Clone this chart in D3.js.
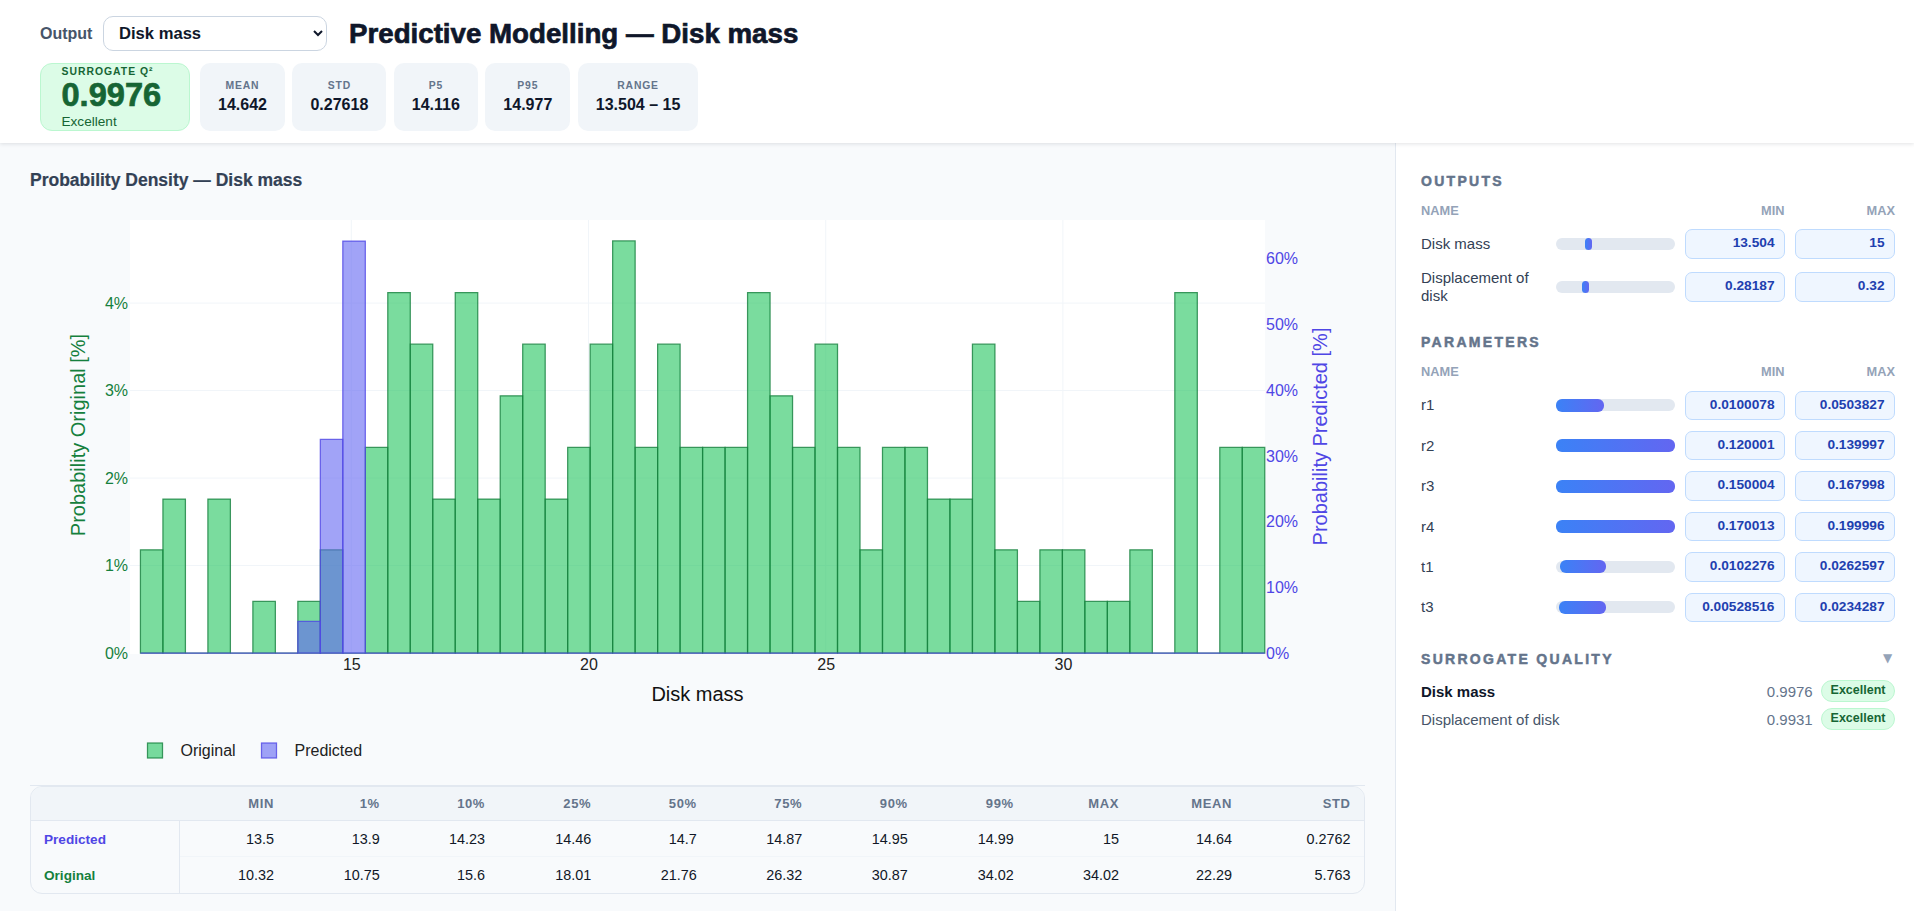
<!DOCTYPE html>
<html><head><meta charset="utf-8">
<script src="https://cdn.jsdelivr.net/npm/d3@7/dist/d3.min.js"></script>
<style>
html,body{margin:0;padding:0;width:1914px;height:911px;overflow:hidden;background:#f8fafc;font-family:"Liberation Sans",Arial,sans-serif;}
#hdr{position:absolute;left:0;top:0;width:1914px;height:143px;background:#fff;box-shadow:0 1px 4px rgba(15,23,42,.12);z-index:3}
#panel{position:absolute;left:1395px;top:143px;width:519px;height:768px;background:#fff;border-left:1px solid #e2e8f0;box-sizing:border-box}
#chart{position:absolute;left:0;top:0;z-index:1}
.t{position:absolute;white-space:nowrap;transform:translateY(-50%);z-index:4}
.r{transform:translate(-100%,-50%)}
select{position:absolute;left:103px;top:15.5px;width:224px;height:35px;border:1.5px solid #cbd5e1;border-radius:10px;background:#fff;font:bold 16.6px "Liberation Sans";color:#0f172a;padding:0 17px 0 11px;z-index:4}
.heavy{-webkit-text-stroke:.7px currentColor}
#stats{position:absolute;left:200px;top:63px;height:68px;display:flex;gap:7.5px;z-index:4}
.st{background:#f1f5f9;border-radius:10px;padding:0 18px;position:relative;text-align:center;height:68px;box-sizing:border-box}
.st .l{position:absolute;left:0;right:0;top:22px;transform:translateY(-50%);font:bold 10.4px "Liberation Sans";letter-spacing:.8px;color:#64748b}
.st .v{font:bold 16px/84px "Liberation Sans";color:#0f172a;white-space:nowrap}
#q{position:absolute;left:40px;top:63px;width:150px;height:68px;box-sizing:border-box;background:#dcfce7;border:1px solid #bbf7d0;border-radius:12px;z-index:4}
.sec{font:bold 14px "Liberation Sans";letter-spacing:2.3px;color:#64748b;-webkit-text-stroke:.5px currentColor}
.sub{font:bold 12.8px "Liberation Sans";color:#94a3b8}
.nm{position:absolute;width:126px;font:15px/17.7px "Liberation Sans";color:#334155;transform:translateY(-50%);z-index:4}
.track{position:absolute;left:1556px;width:119px;height:12px;background:#e2e8f0;border-radius:6px;z-index:4}
.fill{position:absolute;top:0;height:100%;background:linear-gradient(90deg,#3b82f6,#6366f1);border-radius:6px}
.box{position:absolute;width:100px;height:29.5px;box-sizing:border-box;background:#eff6ff;border:1.5px solid #bfdbfe;border-radius:7px;font:bold 13.7px/26.5px "Liberation Sans";color:#1e40af;text-align:right;padding-right:9.5px;z-index:4}
.badge{position:absolute;left:1821px;width:74px;height:21.5px;box-sizing:border-box;background:#dcfce7;border:1px solid #bbf7d0;border-radius:11px;font:bold 12.5px/19.5px "Liberation Sans";color:#166534;text-align:center;z-index:4}
#tw{position:absolute;left:30px;top:785.7px;width:1334.5px;height:108px;box-sizing:border-box;border:1px solid #e2e8f0;border-radius:12px;overflow:hidden;z-index:4}
#tl{position:absolute;left:30px;top:784.7px;width:1334.5px;height:1.5px;background:#e2e8f0;z-index:5}
table{border-collapse:separate;border-spacing:0;table-layout:fixed;width:100%;}
th{height:34.5px;background:#f1f5f9;border-bottom:1px solid #e2e8f0;font:bold 13px "Liberation Sans";letter-spacing:.6px;color:#64748b;text-align:right;padding:0 13px 0 0;box-sizing:border-box}
td{height:36px;font:14.4px "Liberation Sans";color:#111827;text-align:right;padding:0 13px 0 0;box-sizing:border-box;border-bottom:1px solid #f1f5f9}
tr:last-child td{border-bottom:none}
td.rn{text-align:left;padding:0 0 0 13px;font:bold 13.6px "Liberation Sans";border-right:1px solid #e2e8f0;border-bottom:none}
</style></head><body>
<div id="hdr"></div><div id="panel"></div>
<svg id="chart" width="1914" height="911"></svg>
<script>
// ---------- data ----------
const outputNames = ["Disk mass","Displacement of disk"];
const binLeftEdges = [10.555,11.029,11.503,11.977,12.451,12.925,13.399,13.873,14.347,14.821,15.295,15.769,16.243,16.717,17.191,17.665,18.139,18.613,19.087,19.561,20.035,20.509,20.983,21.457,21.931,22.405,22.879,23.353,23.827,24.301,24.775,25.249,25.723,26.197,26.671,27.145,27.619,28.093,28.567,29.041,29.515,29.989,30.463,30.937,31.411,31.885,32.359,32.833,33.307,33.781];
const binRightEnd = 34.255;
const originalPct = [1.18,1.76,0,1.76,0,0.59,0,0.59,1.18,0,2.35,4.12,3.53,1.76,4.12,1.76,2.94,3.53,1.76,2.35,3.53,4.71,2.35,3.53,2.35,2.35,2.35,4.12,2.94,2.35,3.53,2.35,1.18,2.35,2.35,1.76,1.76,3.53,1.18,0.59,1.18,1.18,0.59,0.59,1.18,0,4.12,0,2.35,2.35];
const predictedPct = [0,0,0,0,0,0,0,4.8,32.5,62.7,0,0,0,0,0,0,0,0,0,0,0,0,0,0,0,0,0,0,0,0,0,0,0,0,0,0,0,0,0,0,0,0,0,0,0,0,0,0,0,0];
const xTicks = [15,20,25,30];
const yLeftTicks = [0,1,2,3,4];
const yRightTicks = [0,10,20,30,40,50,60];
const xDomain = [10.335,34.26];
const yLeftMax = 4.95;
const yRightMax = 65.9;
const seriesNames = ["Original","Predicted"];

const statLabels = ["MEAN","STD","P5","P95","RANGE"];
const statValues = ["14.642","0.27618","14.116","14.977","13.504 – 15"];

const outMin = ["13.504","0.28187"], outMax = ["15","0.32"];
const outFrom = [0.244,0.22], outTo = [0.303,0.279];
const paramNames = ["r1","r2","r3","r4","t1","t3"];
const paramMin = ["0.0100078","0.120001","0.150004","0.170013","0.0102276","0.00528516"];
const paramMax = ["0.0503827","0.139997","0.167998","0.199996","0.0262597","0.0234287"];
const paramFrom = [0,0,0,0,0.034,0.026];
const paramTo = [0.403,1,1,1,0.42,0.42];
const qualityScores = ["0.9976","0.9931"];
const qualityLabels = ["Excellent","Excellent"];

const tableCols = ["MIN","1%","10%","25%","50%","75%","90%","99%","MAX","MEAN","STD"];
const predictedRow = ["13.5","13.9","14.23","14.46","14.7","14.87","14.95","14.99","15","14.64","0.2762"];
const originalRow = ["10.32","10.75","15.6","18.01","21.76","26.32","30.87","34.02","34.02","22.29","5.763"];

// ---------- header ----------
const body = d3.select("body");
function txt(x,y,s,style,cls){
  const e = body.append("div").attr("class","t "+(cls||"")).style("left",x+"px").style("top",y+"px").text(s);
  Object.entries(style||{}).forEach(([k,v])=>e.style(k,v));
  return e;
}
txt(40,33.5,"Output",{font:'bold 16px "Liberation Sans"',color:"#475569"});
body.append("select").selectAll("option").data(outputNames).join("option").text(d=>d);
txt(349,33.5,"Predictive Modelling — Disk mass",{font:'bold 27.7px "Liberation Sans"',color:"#0f172a"},"heavy");
body.append("div").attr("id","q");
txt(61.5,71,"SURROGATE Q²",{font:'bold 10.4px "Liberation Sans"',"letter-spacing":"1px",color:"#166534"});
txt(61.5,95,qualityScores[0],{font:'bold 32.6px "Liberation Sans"',color:"#166534"},"heavy");
txt(61.5,120.5,qualityLabels[0],{font:'13.6px "Liberation Sans"',color:"#166534"});
const st = body.append("div").attr("id","stats").selectAll("div").data(statLabels).join("div").attr("class","st");
st.append("div").attr("class","l").text(d=>d);
st.append("div").attr("class","v").text((d,i)=>statValues[i]);

txt(30,179.5,"Probability Density — Disk mass",{font:'bold 17.5px "Liberation Sans"',color:"#334155","-webkit-text-stroke":".2px currentColor"});

// ---------- chart ----------
const L=130,R=1265,T=220,B=653;
const x = d3.scaleLinear().domain(xDomain).range([L,R]);
const yL = d3.scaleLinear().domain([0,yLeftMax]).range([B,T]);
const yR = d3.scaleLinear().domain([0,yRightMax]).range([B,T]);
const svg = d3.select("#chart");
svg.append("rect").attr("x",L).attr("y",T).attr("width",R-L).attr("height",B-T+1).attr("fill","#fff");
const axisStyle=(g,color)=>{g.select(".domain").remove();g.selectAll("text").attr("fill",color).style("font",'16px "Liberation Sans"');};
svg.append("g").selectAll("line").data(xTicks).join("line").attr("x1",d=>x(d)).attr("x2",d=>x(d)).attr("y1",T).attr("y2",B).attr("stroke","#f1f5f9");
svg.append("g").selectAll("line").data(yLeftTicks.slice(1)).join("line").attr("x1",L).attr("x2",R).attr("y1",d=>yL(d)).attr("y2",d=>yL(d)).attr("stroke","#f1f5f9");

function bars(values,scale,fill,stroke){
  svg.append("g").selectAll("path").data(values).join("path")
    .attr("d",(v,i)=>{
      const p=d3.path();
      const x0=x(binLeftEdges[i]), x1=x(i<binLeftEdges.length-1?binLeftEdges[i+1]:binRightEnd);
      p.moveTo(x0,B);p.lineTo(x0,scale(v));p.lineTo(x1,scale(v));p.lineTo(x1,B);p.closePath();
      return p.toString();
    })
    .attr("fill",fill).attr("stroke",stroke).attr("stroke-width",1.25);
}
bars(originalPct,yL,"rgba(34,197,94,.6)","rgba(21,128,61,.8)");
bars(predictedPct,yR,"rgba(99,102,241,.6)","rgba(79,70,229,.8)");

svg.append("g").attr("transform",`translate(0,${B})`).call(d3.axisBottom(x).tickValues(xTicks).tickFormat(d=>d).tickSize(0).tickPadding(6)).call(axisStyle,"#222");
svg.append("g").attr("transform",`translate(${L-2},0)`).call(d3.axisLeft(yL).tickValues(yLeftTicks).tickFormat(d=>d+"%").tickSize(0).tickPadding(0)).call(axisStyle,"#15803d");
svg.append("g").attr("transform",`translate(${R+1},0)`).call(d3.axisRight(yR).tickValues(yRightTicks).tickFormat(d=>d+"%").tickSize(0).tickPadding(0)).call(axisStyle,"#4f46e5");

const title=(s,px,py,rot,color)=>svg.append("text").attr("transform",`translate(${px},${py}) rotate(${rot})`).attr("text-anchor","middle").attr("dominant-baseline","central").attr("fill",color).style("font",'20px "Liberation Sans"').text(s);
title("Disk mass",697.5,693.5,0,"#111");
title("Probability Original [%]",78,435,-90,"#15803d");
title("Probability Predicted [%]",1319.5,436.5,-90,"#4f46e5");

const legFill=["rgba(34,197,94,.6)","rgba(99,102,241,.6)"],legStroke=["rgba(21,128,61,.8)","rgba(79,70,229,.8)"],legX=[147.5,261.5];
const lg=svg.append("g").selectAll("g").data(seriesNames).join("g").attr("transform",(d,i)=>`translate(${legX[i]},750.5)`);
lg.append("rect").attr("x",0).attr("y",-7.5).attr("width",15).attr("height",15).attr("fill",(d,i)=>legFill[i]).attr("stroke",(d,i)=>legStroke[i]).attr("stroke-width",1.25);
lg.append("text").attr("x",33).attr("y",0).attr("dominant-baseline","central").attr("fill","#222").style("font",'16px "Liberation Sans"').text(d=>d);

// ---------- table ----------
body.append("div").attr("id","tl");
const tbl=body.append("div").attr("id","tw").append("table");
const colW=[148.5,107.5,105.7,105.3,106.2,105.5,105.5,105.5,106,105.3,113,118.5];
tbl.append("colgroup").selectAll("col").data(colW).join("col").style("width",d=>d+"px");
tbl.append("thead").append("tr").selectAll("th").data([""].concat(tableCols)).join("th").text(d=>d);
const tb=tbl.append("tbody");
[["Predicted",predictedRow,"#4f46e5"],["Original",originalRow,"#15803d"]].forEach(r=>{
  const tr=tb.append("tr");
  tr.append("td").attr("class","rn").style("color",r[2]).text(r[0]);
  tr.selectAll("td.v").data(r[1]).join("td").attr("class","v").text(d=>d);
});

// ---------- side panel ----------
const frac=d3.scaleLinear().domain([0,1]).range([0,119]);
function section(y,s){txt(1421,y,s,{},"sec");}
function subhead(y){
  txt(1421,y,"NAME",{},"sub");
  txt(1784.5,y,"MIN",{},"sub r");
  txt(1895,y,"MAX",{},"sub r");
}
function row(cy,name,mn,mx,from,to,fh){
  body.append("div").attr("class","nm").style("left","1421px").style("top",cy+"px").text(name);
  const tr=body.append("div").attr("class","track").style("top",(cy-6)+"px");
  tr.append("div").attr("class","fill")
    .style("left",frac(from)+"px").style("width",frac(to-from)+"px")
    .style("height",fh+"px").style("top",(12-fh)/2+"px");
  body.append("div").attr("class","box").style("left","1685px").style("top",(cy-14.75)+"px").text(mn);
  body.append("div").attr("class","box").style("left","1795px").style("top",(cy-14.75)+"px").text(mx);
}
section(180.7,"OUTPUTS"); subhead(210);
outputNames.forEach((n,i)=>row(i?287:244,n,outMin[i],outMax[i],outFrom[i],outTo[i],12));
section(341.7,"PARAMETERS"); subhead(371);
paramNames.forEach((n,i)=>row(405.3+i*40.4,n,paramMin[i],paramMax[i],paramFrom[i],paramTo[i],13));
section(659.3,"SURROGATE QUALITY");
txt(1883,658,"▼",{font:'12px "DejaVu Sans"',color:"#94a3b8"});
outputNames.forEach((n,i)=>{
  const cy=690.7+i*28;
  txt(1421,cy,n,{font:(i?'':'bold ')+'15px "Liberation Sans"',color:i?"#475569":"#0f172a"});
  txt(1812.7,cy,qualityScores[i],{font:'15px "Liberation Sans"',color:"#64748b"},"r");
  body.append("div").attr("class","badge").style("top",(cy-10.5)+"px").text(qualityLabels[i]);
});
</script>
</body></html>
